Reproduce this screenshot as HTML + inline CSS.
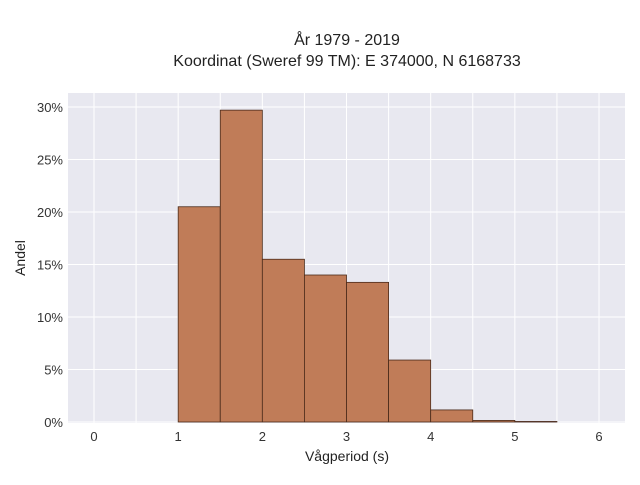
<!DOCTYPE html>
<html><head><meta charset="utf-8"><style>
body{margin:0;background:#fff;}
svg{font-family:"Liberation Sans",sans-serif;}
</style></head><body>
<svg id="chart" width="640" height="480">
<text x="347" y="45" text-anchor="middle" font-size="16" fill="#222">År 1979 - 2019</text>
<text x="347" y="66" text-anchor="middle" font-size="16" fill="#222">Koordinat (Sweref 99 TM): E 374000, N 6168733</text>
<rect x="68" y="93" width="557" height="330" fill="#e8e8f0"/>
<g id="grid"></g><g id="bars"></g><g id="ticks"></g>
<text x="347" y="461" text-anchor="middle" font-size="14" fill="#222">Vågperiod (s)</text>
<text transform="translate(25,258) rotate(-90)" text-anchor="middle" font-size="14" fill="#222">Andel</text>
</svg>
<script>
const binStarts=[1,1.5,2,2.5,3,3.5,4,4.5,5];
const binWidth=0.5;
const shares=[20.5,29.7,15.5,14.0,13.3,5.9,1.15,0.15,0.05];
const xTicks=[0,1,2,3,4,5,6];
const yTicks=[0,5,10,15,20,25,30];
const NS="http://www.w3.org/2000/svg";
const X=v=>94+v*84.17;
const Y=v=>422-v*10.5;
const grid=document.getElementById('grid'),bars=document.getElementById('bars'),ticks=document.getElementById('ticks');
function mk(tag,a,parent){const e=document.createElementNS(NS,tag);for(const k in a)e.setAttribute(k,a[k]);parent.appendChild(e);return e;}
for(let v=0;v<=6;v+=0.5){const l=mk('line',{x1:X(v),x2:X(v),y1:93,y2:423,stroke:'#fff','stroke-width':1},grid);

}
yTicks.forEach(v=>{const l=mk('line',{x1:68,x2:625,y1:Y(v),y2:Y(v),stroke:'#fff','stroke-width':1},grid);


const t=mk('text',{x:63,y:Y(v)+5,'text-anchor':'end','font-size':13,fill:'#333'},ticks);t.textContent=v+'%';

});
xTicks.forEach(v=>{const t=mk('text',{x:X(v),y:441,'text-anchor':'middle','font-size':13,fill:'#333'},ticks);t.textContent=v;

});
binStarts.forEach((s,i)=>{const r=mk('rect',{x:X(s),y:Y(shares[i]),width:X(s+binWidth)-X(s),height:Y(0)-Y(shares[i]),fill:'#c07c58',stroke:'#4a2a1a','stroke-width':0.8},bars);

});
</script>
</body></html>
